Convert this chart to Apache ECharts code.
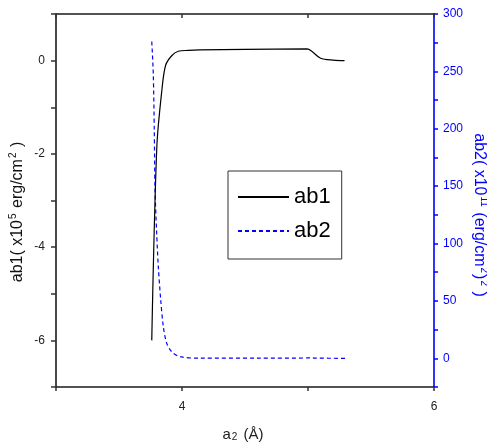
<!DOCTYPE html>
<html>
<head>
<meta charset="utf-8">
<script src="https://cdn.jsdelivr.net/npm/echarts@6/dist/echarts.min.js"></script>
<style>
  html, body { margin: 0; padding: 0; background: #fff; }
  #chart { width: 487px; height: 446px; }
</style>
</head>
<body>
<div id="chart"></div>
<script>
// ab1 (left axis, x10^5 erg/cm^2) against a2 (Å)
var ab1X = [3.76, 3.80, 3.84, 3.87, 3.92, 3.97, 4.05, 4.14, 4.50, 4.99, 5.10, 5.20, 5.29];
var ab1Y = [-6.0, -1.86, -0.64, -0.10, 0.11, 0.20, 0.22, 0.23, 0.24, 0.25, 0.05, 0.01, 0.0];

// ab2 (right axis, x10^11 (erg/cm^2)^2) against a2 (Å)
var ab2X = [3.76, 3.772, 3.78, 3.786, 3.799, 3.812, 3.831, 3.852, 3.879, 3.918, 3.984, 4.14, 4.60, 5.00, 5.02, 5.05, 5.31];
var ab2Y = [276, 248, 199, 147, 109, 80, 51, 27.5, 13, 5.8, 1.4, 0.1, 0.1, 0.3, 0.6, 0.2, 0.0];

// Axis ranges and labelled ticks
var xRange = [3, 6];
var xLabelled = [4, 6];
var y1Range = [-7, 1];
var y1Labelled = [-6, -4, -2, 0];
var y2Range = [-25, 300];
var y2Labelled = [0, 50, 100, 150, 200, 250, 300];

function pairs(xs, ys) {
  return xs.map(function (x, i) { return [x, ys[i]]; });
}
function onlyLabels(list) {
  return function (v) {
    for (var i = 0; i < list.length; i++) {
      if (Math.abs(list[i] - v) < 1e-9) return String(v);
    }
    return '';
  };
}

var FONT = 'Liberation Sans, Arial, sans-serif';
var BLUE = '#0000ff';
var AXIS_BLACK = '#1a1a1a';

// Rotated y-axis titles with superscripts
function axisTitle(text, color, x, y, rotation) {
  return {
    type: 'text',
    x: x,
    y: y,
    rotation: rotation,
    silent: true,
    style: {
      text: text,
      align: 'center',
      verticalAlign: 'middle',
      rich: {
        n: { fontSize: 16, fill: color, fontFamily: FONT, lineHeight: 20 },
        s: { fontSize: 10, fill: color, fontFamily: FONT, verticalAlign: 'top', padding: [0, 1, 0, 1] }
      }
    }
  };
}

var chart = echarts.init(document.getElementById('chart'), null, { renderer: 'canvas' });

chart.setOption({
  animation: false,
  backgroundColor: '#ffffff',
  textStyle: { fontFamily: FONT },
  grid: { left: 56, right: 53, top: 14, bottom: 59, containLabel: false, outerBoundsMode: 'none' },
  graphic: [
    axisTitle('{n|ab1( x10}{s|5}{n| erg/cm}{s|2}{n| )}', '#111', 18, 212, Math.PI / 2),
    axisTitle('{n|ab2( x10}{s|11}{n| (erg/cm}{s|2}{n|)}{s|2}{n| )}', BLUE, 479, 215, -Math.PI / 2)
  ],
  legend: {
    data: ['ab1', 'ab2'],
    orient: 'vertical',
    left: 228,
    top: 171,
    padding: [14, 11, 16, 9],
    itemWidth: 51,
    itemHeight: 14,
    itemGap: 10,
    borderColor: '#333',
    borderWidth: 1,
    backgroundColor: '#fff',
    itemStyle: { opacity: 0 },
    textStyle: { fontSize: 22, color: '#000', fontFamily: FONT, lineHeight: 24 }
  },
  xAxis: [
    {
      type: 'value',
      position: 'bottom',
      min: xRange[0], max: xRange[1], interval: 1,
      name: '{n|a}{sub|2}{n| (Å)}',
      nameLocation: 'middle',
      nameGap: 40,
      nameTextStyle: {
        padding: [0, 4, 0, 0],
        rich: {
          n: { fontSize: 15, color: '#222', fontFamily: FONT },
          sub: { fontSize: 10, color: '#222', fontFamily: FONT, verticalAlign: 'bottom', padding: [0, 2, 0, 1] }
        }
      },
      axisLine: { show: true, onZero: false, lineStyle: { color: AXIS_BLACK, width: 1.6 } },
      axisTick: { show: true, inside: false, length: 4, lineStyle: { color: '#333', width: 1.5 } },
      axisLabel: { formatter: onlyLabels(xLabelled), fontSize: 12, color: '#222', margin: 14, fontFamily: FONT },
      splitLine: { show: false }
    },
    {
      type: 'value',
      position: 'top',
      min: xRange[0], max: xRange[1], interval: 1,
      axisLine: { show: true, onZero: false, lineStyle: { color: AXIS_BLACK, width: 1.6 } },
      axisTick: { show: true, inside: true, length: 4, lineStyle: { color: '#333', width: 1.5 } },
      axisLabel: { show: false },
      splitLine: { show: false }
    }
  ],
  yAxis: [
    {
      type: 'value',
      position: 'left',
      min: y1Range[0], max: y1Range[1], interval: 1,
      axisLine: { show: true, onZero: false, lineStyle: { color: AXIS_BLACK, width: 1.6 } },
      axisTick: { show: true, inside: false, length: 5, lineStyle: { color: '#333', width: 1.5 } },
      axisLabel: { formatter: onlyLabels(y1Labelled), fontSize: 12, color: '#222', margin: 11, fontFamily: FONT },
      splitLine: { show: false }
    },
    {
      type: 'value',
      position: 'right',
      min: y2Range[0], max: y2Range[1], interval: 25,
      axisLine: { show: true, onZero: false, lineStyle: { color: BLUE, width: 1.6 } },
      axisTick: { show: true, inside: false, length: 4, lineStyle: { color: BLUE, width: 1.5 } },
      axisLabel: { formatter: onlyLabels(y2Labelled), fontSize: 12, color: BLUE, margin: 9, fontFamily: FONT },
      splitLine: { show: false }
    }
  ],
  series: [
    {
      name: 'ab1',
      type: 'line',
      xAxisIndex: 0,
      yAxisIndex: 0,
      data: pairs(ab1X, ab1Y),
      smooth: 0.3,
      showSymbol: false,
      symbol: 'none',
      color: '#000',
      lineStyle: { color: '#000', width: 1.2, type: 'solid' },
      z: 3
    },
    {
      name: 'ab2',
      type: 'line',
      xAxisIndex: 0,
      yAxisIndex: 1,
      data: pairs(ab2X, ab2Y),
      smooth: 0.3,
      showSymbol: false,
      symbol: 'none',
      color: BLUE,
      lineStyle: { color: BLUE, width: 1.2, type: [4, 3] },
      z: 2
    }
  ]
});
</script>
</body>
</html>
